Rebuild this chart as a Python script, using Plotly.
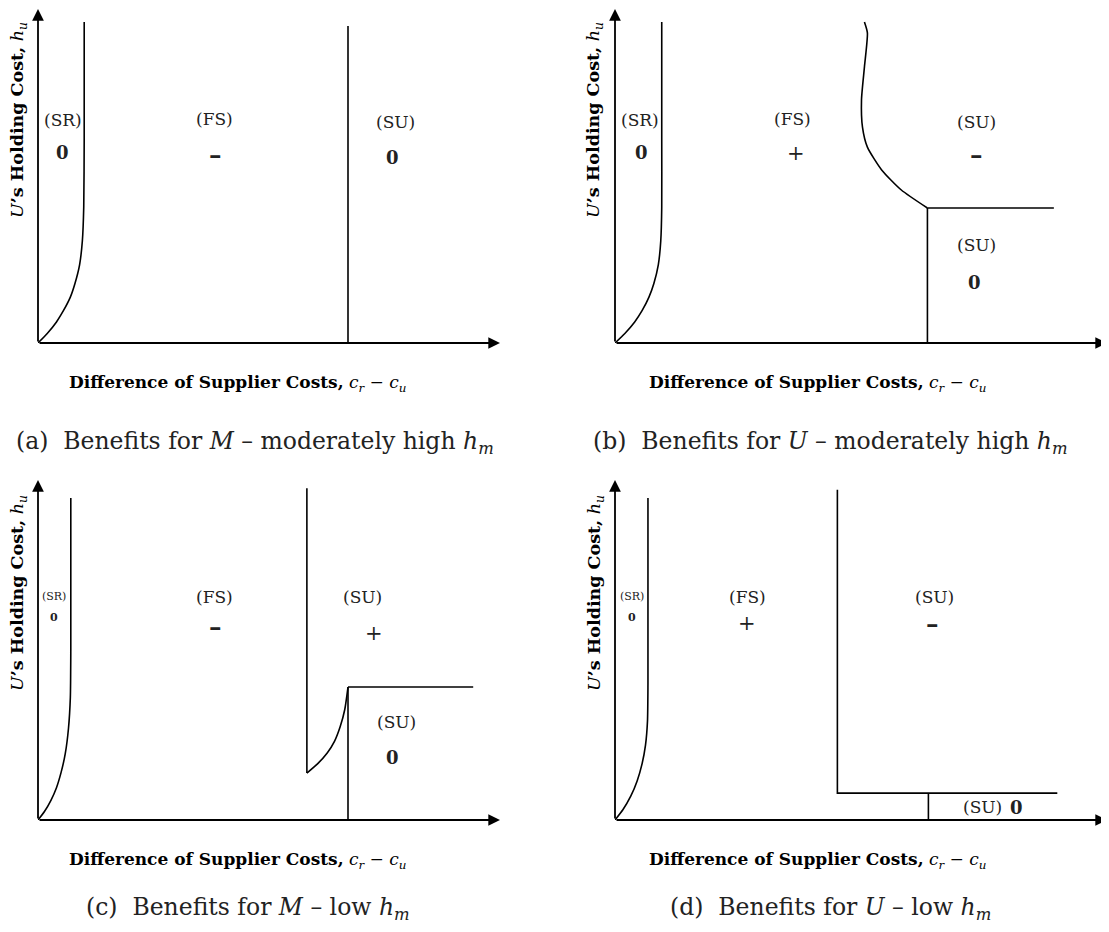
import plotly.graph_objects as go

# ---------------- data (schematic units: 0..100 on each axis, 100 = arrow tip) ----------------
# Panel (a): Benefits for M - moderately high h_m
a_sr_x = [0, 2.0, 4.0, 5.5, 7.0, 8.0, 9.0, 9.6, 9.9, 10.0, 10.0]
a_sr_y = [0, 2.8, 6.2, 9.5, 13.5, 17.5, 23.0, 30.0, 40.0, 60.0, 94.4]
a_su_x = [67.1, 67.1]
a_su_y = [0, 93.2]

# Panel (b): Benefits for U - moderately high h_m
b_sr_x = [0, 2.0, 4.0, 5.5, 6.9, 7.9, 8.8, 9.3, 9.5, 9.5, 9.5]
b_sr_y = [0, 2.8, 6.2, 9.5, 13.5, 17.5, 23.0, 30.0, 40.0, 60.0, 94.4]
b_fs_x = [50.7, 51.3, 50.7, 50.1, 50.3, 51.3, 54.2, 58.2, 63.5]
b_fs_y = [94.4, 91.2, 81.2, 71.5, 63.5, 57.6, 50.9, 45.0, 39.7]
b_hz_x = [63.5, 89.2]
b_hz_y = [39.7, 39.7]
b_vt_x = [63.5, 63.5]
b_vt_y = [0, 39.7]

# Panel (c): Benefits for M - low h_m
c_sr_x = [0, 1.4, 2.8, 4.0, 5.0, 5.9, 6.6, 7.0, 7.1, 7.1]
c_sr_y = [0, 2.5, 5.8, 9.5, 14.0, 19.5, 27.0, 36.0, 50.0, 94.7]
c_fs_x = [58.2, 58.2]
c_fs_y = [97.6, 13.8]
c_cv_x = [58.2, 60.5, 62.6, 64.2, 65.4, 66.4, 67.1]
c_cv_y = [13.8, 16.5, 19.7, 23.2, 27.4, 32.5, 39.1]
c_hz_x = [67.1, 94.2]
c_hz_y = [39.1, 39.1]
c_vt_x = [67.1, 67.1]
c_vt_y = [0, 39.1]

# Panel (d): Benefits for U - low h_m
d_sr_x = [0, 1.6, 3.2, 4.5, 5.5, 6.2, 6.6, 6.7, 6.7]
d_sr_y = [0, 3.0, 7.0, 11.5, 16.5, 22.0, 29.0, 40.0, 94.7]
d_fs_x = [45.2, 45.2, 89.9]
d_fs_y = [97.1, 7.9, 7.9]
d_vt_x = [63.7, 63.7]
d_vt_y = [0, 7.9]

# region labels: (text, x, y, size, bold)
a_labels = [("(SR)", 5.4, 65.6, 17, False), ("0", 5.4, 55.9, 18, True),
            ("(FS)", 38.3, 66.0, 17, False), ("–", 38.5, 55.3, 25, True),
            ("(SU)", 77.3, 65.0, 17, False), ("0", 76.8, 54.7, 18, True)]
b_labels = [("(SR)", 5.1, 65.6, 17, False), ("0", 5.3, 55.9, 18, True),
            ("(FS)", 36.1, 66.0, 17, False), ("+", 36.7, 55.9, 21, False),
            ("(SU)", 73.4, 65.0, 17, False), ("–", 73.4, 55.3, 25, True),
            ("(SU)", 73.4, 28.8, 17, False), ("0", 73.0, 17.9, 18, True)]
c_labels = [("(SR)", 3.5, 65.6, 11, False), ("0", 3.5, 59.7, 11, True),
            ("(FS)", 38.3, 65.6, 17, False), ("–", 38.5, 56.8, 25, True),
            ("(SU)", 70.3, 65.6, 17, False), ("+", 72.7, 55.0, 21, False),
            ("(SU)", 77.7, 28.8, 17, False), ("0", 76.8, 18.5, 18, True)]
d_labels = [("(SR)", 3.4, 65.6, 11, False), ("0", 3.4, 59.7, 11, True),
            ("(FS)", 27.0, 65.6, 17, False), ("+", 26.8, 57.9, 21, False),
            ("(SU)", 64.9, 65.6, 17, False), ("–", 64.5, 57.9, 25, True),
            ("(SU)", 74.6, 3.8, 17, False), ("0", 81.7, 3.8, 18, True)]

captions = ["(a)  Benefits for <i>M</i> – moderately high <i>h<sub>m</sub></i>",
            "(b)  Benefits for <i>U</i> – moderately high <i>h<sub>m</sub></i>",
            "(c)  Benefits for <i>M</i> – low <i>h<sub>m</sub></i>",
            "(d)  Benefits for <i>U</i> – low <i>h<sub>m</sub></i>"]
x_title = "<b>Difference of Supplier Costs,</b> <i>c<sub>r</sub></i> − <i>c<sub>u</sub></i>"
y_title = "<i>U</i><b>’s Holding Cost,</b> <i>h<sub>u</sub></i>"

# ---------------- layout geometry (target screen pixels) ----------------
OFF = 8                      # page body margin
W, H = 1109 - OFF, 932 - OFF  # figure size

def px(x):
    return (x - OFF) / W

def py(y):
    return 1 - (y - OFF) / H

# (origin_x, origin_y, tip_x, tip_y)
frames = [(38, 343, 500, 3), (615, 343, 1107, 3), (38, 820, 500, 480), (615, 820, 1107, 480)]
# (x-title center x, x-title y, y-title x, y-title center y, caption center x, caption y)
text_pos = [(237, 383, 18, 120, 255, 443), (817, 383, 594, 120, 830, 443),
            (237, 860, 18, 593, 248, 908), (817, 860, 595, 593, 830, 908)]

FONT = "DejaVu Serif"
fig = go.Figure()

panels = [
    [(a_sr_x, a_sr_y, True), (a_su_x, a_su_y, False)],
    [(b_sr_x, b_sr_y, True), (b_fs_x, b_fs_y, True), (b_hz_x, b_hz_y, False), (b_vt_x, b_vt_y, False)],
    [(c_sr_x, c_sr_y, True), (c_fs_x, c_fs_y, False), (c_cv_x, c_cv_y, True),
     (c_hz_x, c_hz_y, False), (c_vt_x, c_vt_y, False)],
    [(d_sr_x, d_sr_y, True), (d_fs_x, d_fs_y, False), (d_vt_x, d_vt_y, False)],
]
labels = [a_labels, b_labels, c_labels, d_labels]

annotations = []
for i, (frame, series, labs, tp, cap) in enumerate(zip(frames, panels, labels, text_pos, captions)):
    n = "" if i == 0 else str(i + 1)
    xa, ya = "x" + n, "y" + n
    ox, oy, tx, ty = frame
    ty_eff = max(ty, OFF + 1)
    ymax = 100.0 * (oy - ty_eff) / (oy - ty)
    fig.layout["xaxis" + n] = dict(domain=[px(ox), px(tx)], range=[0, 100], visible=False,
                                   fixedrange=True, anchor=ya)
    fig.layout["yaxis" + n] = dict(domain=[py(oy), py(ty_eff)], range=[0, ymax], visible=False,
                                   fixedrange=True, anchor=xa)
    for (xs, ys, spline) in series:
        fig.add_trace(go.Scatter(x=xs, y=ys, xaxis=xa, yaxis=ya, mode="lines",
                                 line=dict(color="black", width=1.6,
                                           shape="spline" if spline else "linear", smoothing=0.6),
                                 showlegend=False, hoverinfo="skip", cliponaxis=False))
    # axis arrows
    for (x1, y1) in [(100, 0), (0, ymax)]:
        annotations.append(dict(x=x1, y=y1, ax=0, ay=0, xref=xa, yref=ya, axref=xa, ayref=ya,
                                text="", showarrow=True, arrowhead=2, arrowsize=1.3,
                                arrowwidth=1.8, arrowcolor="black", standoff=0))
    for (t, lx, ly, sz, bold) in labs:
        annotations.append(dict(x=lx, y=ly, xref=xa, yref=ya, showarrow=False,
                                xanchor="center", yanchor="middle",
                                text=("<b>%s</b>" % t) if bold else t,
                                font=dict(family=FONT, size=sz, color="#222")))
    xc, xy, yx, yc, cx, cy = tp
    annotations.append(dict(x=px(xc), y=py(xy), xref="paper", yref="paper", showarrow=False,
                            xanchor="center", yanchor="middle",
                            text=x_title, font=dict(family=FONT, size=17, color="black")))
    annotations.append(dict(x=px(yx), y=py(yc), xref="paper", yref="paper",
                            xanchor="center", yanchor="middle",
                            showarrow=False, textangle=-90, text=y_title,
                            font=dict(family=FONT, size=17.5, color="black")))
    annotations.append(dict(x=px(cx), y=py(cy), xref="paper", yref="paper", showarrow=False,
                            xanchor="center", yanchor="middle",
                            text=cap, font=dict(family=FONT, size=23.5, color="#222")))

fig.update_layout(width=W, height=H, margin=dict(l=0, r=0, t=0, b=0),
                  paper_bgcolor="white", plot_bgcolor="white", annotations=annotations)
fig.write_html("out.html")
